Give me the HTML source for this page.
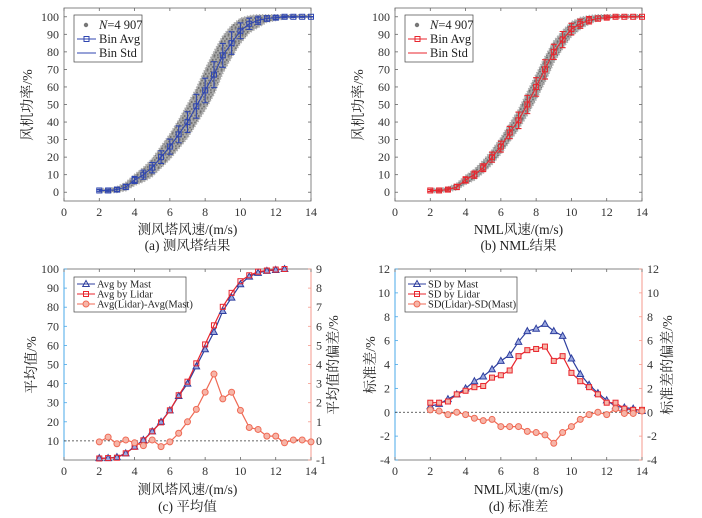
<!DOCTYPE html>
<html><head><meta charset="utf-8">
<style>
html,body{margin:0;padding:0;background:#fff;}
svg{display:block;font-family:"Liberation Serif","Noto Serif CJK SC","Noto Sans CJK SC",serif;}
</style></head>
<body>
<svg id="fig" width="702" height="518" viewBox="0 0 702 518" xmlns="http://www.w3.org/2000/svg">
<defs>
<pattern id="dots" width="7" height="7" patternUnits="userSpaceOnUse">
<rect width="7" height="7" fill="#a9a9a9"/>
<circle cx="1" cy="1.5" r="1" fill="#727272"/><circle cx="4.5" cy="0.8" r="1" fill="#7a7a7a"/>
<circle cx="2.7" cy="4" r="1" fill="#6e6e6e"/><circle cx="6" cy="3.5" r="1" fill="#787878"/>
<circle cx="0.8" cy="6" r="1" fill="#7a7a7a"/><circle cx="4.6" cy="6.2" r="1" fill="#707070"/>
</pattern>
</defs>
</svg>
<script>
// ---- data ----
const binX = [2,2.5,3,3.5,4,4.5,5,5.5,6,6.5,7,7.5,8,8.5,9,9.5,10,10.5,11,11.5,12,12.5,13,13.5,14];
const mastAvgA = [1,1,1.5,3,7,10,14,20,26,33,40,49,58,67,78,85,92,96,98,99,99.5,100,100,100,100];
const mastStdA = [0.5,0.7,1.1,1.5,2.0,2.6,3.0,3.6,4.3,4.8,5.9,6.8,7.0,7.4,6.8,6.4,4.5,3.2,2.3,1.6,1.0,0.5,0.4,0.3,0.1];
const scatterLowA = [0,0,0,1,4,6,9,14,19,25,31,39,47,56,68,77,85,91,94,97,98,99,99.5,99.5,99.5];
const scatterHighA = [2,2,3,5.5,10,14,19,26,33,41,50,59,70,80,89,95,99,100.5,101,101,101,101,101,101,101];
const lidarAvgB = [1,1,1.5,3,7,10,14,20,26,34,41,50,60,70,80,87,93,96,98,99,99.5,100,100,100,100];
const lidarStdB = [0.6,0.7,0.8,1.5,1.8,2.1,2.2,2.9,3.1,3.5,4.7,5.2,5.3,5.5,4.3,4.6,3.3,2.6,2.1,1.5,0.8,0.5,0.3,0.2,0.1];
const scatterLowB = [0,0,0.5,1.5,4.5,7,11,16,22,29,36,44,53,63,74,82,89,93,96,98,99,99.5,99.5,99.5,99.5];
const scatterHighB = [2,2,2.8,5,9.5,13,18,24,31,39,47,57,67,77,86,92,97,99.5,100.5,101,101,101,101,101,101];
const avgXC = [2,2.5,3,3.5,4,4.5,5,5.5,6,6.5,7,7.5,8,8.5,9,9.5,10,10.5,11,11.5,12,12.5];
const mastAvgC = [1,1,1.5,3.5,7,10.5,15,20,26,33.5,40,49,58,67,78,85,92,96,98,99,99.5,100];
const lidarAvgC = [0.8,1,1.2,3.5,6.9,10.3,15,19.7,26,33.9,41,50.6,60.5,70.5,80.2,87.5,93.6,96.7,98.6,99.2,99.7,100];
const avgDiffC = [-0.05,0.2,-0.15,0.05,-0.1,-0.25,0.05,-0.3,-0.05,0.4,1.0,1.65,2.55,3.5,2.2,2.55,1.6,0.7,0.6,0.25,0.25,-0.1,0.05,0.05,-0.05];
const sdMastD = [0.5,0.7,1.1,1.5,2.0,2.6,3.0,3.6,4.3,4.8,5.9,6.8,7.0,7.4,6.8,6.4,4.5,3.2,2.3,1.6,1.0,0.5,0.4,0.3,0.1];
const sdLidarD = [0.8,0.8,0.9,1.5,1.8,2.1,2.2,2.9,3.1,3.5,4.7,5.2,5.3,5.5,4.3,4.7,3.3,2.6,2.1,1.5,0.8,0.8,0.3,0.2,0.2];
const sdDiffD = [0.2,0.1,-0.2,0,-0.2,-0.5,-0.7,-0.6,-1.2,-1.2,-1.2,-1.6,-1.7,-1.9,-2.6,-1.7,-1.2,-0.6,-0.2,0,-0.2,0.3,-0.1,-0.1,0.1];
const xTicks = [0,2,4,6,8,10,12,14];
const yTicksAB = [0,10,20,30,40,50,60,70,80,90,100];
const yTicksC = [10,20,30,40,50,60,70,80,90,100];
const yTicksCR = [-1,0,1,2,3,4,5,6,7,8,9];
const yTicksD = [-4,-2,0,2,4,6,8,10,12];

const svg = document.getElementById('fig');
const NS = 'http://www.w3.org/2000/svg';
function mk(tag, attrs, parent){ const e=document.createElementNS(NS,tag); for(const k in attrs) e.setAttribute(k,attrs[k]); (parent||svg).appendChild(e); return e; }
function txt(s, attrs, parent){ const e=mk('text',attrs,parent); e.textContent=s; return e; }
function scale(d0,d1,r0,r1){ return v => r0+(v-d0)/(d1-d0)*(r1-r0); }

function axesBox(g, L,R,T,B, xs, ys, yt, leftColor, rightColor, ysR, ytR){
  mk('rect',{x:L,y:T,width:R-L,height:B-T,fill:'none',stroke:'#666','stroke-width':0.8},g);
  if(leftColor){ mk('line',{x1:L,y1:T,x2:L,y2:B,stroke:leftColor,'stroke-width':1},g); }
  if(rightColor){ mk('line',{x1:R,y1:T,x2:R,y2:B,stroke:rightColor,'stroke-width':1},g); }
  xTicks.forEach(t=>{ const x=xs(t);
    mk('line',{x1:x,y1:B,x2:x,y2:B-3,stroke:'#666','stroke-width':0.8},g);
    mk('line',{x1:x,y1:T,x2:x,y2:T+3,stroke:'#666','stroke-width':0.8},g);
    const l=txt(String(t),{x:x,y:B+15,'text-anchor':'middle','font-size':12,fill:'#333'},g);
     
  });
  yt.forEach(t=>{ const y=ys(t);
    mk('line',{x1:L,y1:y,x2:L+3,y2:y,stroke:leftColor||'#666','stroke-width':0.8},g);
    if(!ysR) mk('line',{x1:R,y1:y,x2:R-3,y2:y,stroke:'#666','stroke-width':0.8},g);
    const l=txt(String(t),{x:L-5,y:y+4,'text-anchor':'end','font-size':12,fill:'#333'},g);
     
  });
  if(ysR){ ytR.forEach(t=>{ const y=ysR(t);
    mk('line',{x1:R,y1:y,x2:R-3,y2:y,stroke:rightColor,'stroke-width':0.8},g);
    const l=txt(String(t),{x:R+5,y:y+4,'text-anchor':'start','font-size':12,fill:'#333'},g);
     
  }); }
}
function rotLabel(g,s,x,y,name){ const e=txt(s,{x:x,y:y,'text-anchor':'middle','font-size':14,fill:'#222',transform:`rotate(-90 ${x} ${y})`},g);   }
function label(g,s,x,y,name,sz){ const e=txt(s,{x:x,y:y,'text-anchor':'middle','font-size':sz||13.5,fill:'#222'},g);   }
function line(g,xsArr,ysArr,xs,ys,color,w){ const d=xsArr.map((v,i)=>`${i?'L':'M'}${xs(v).toFixed(1)},${ys(ysArr[i]).toFixed(1)}`).join(''); return mk('path',{d:d,fill:'none',stroke:color,'stroke-width':w||1.2},g); }
function marker(g,type,x,y,color,fill){
  if(type==='sq') return mk('rect',{x:x-2.5,y:y-2.5,width:5,height:5,fill:fill||'none',stroke:color,'stroke-width':1},g);
  if(type==='tri') return mk('path',{d:`M${x},${y-3.5}L${x+3.3},${y+2.5}L${x-3.3},${y+2.5}Z`,fill:fill||'none',stroke:color,'stroke-width':1},g);
  return mk('circle',{cx:x,cy:y,r:3,fill:fill||'none',stroke:color,'stroke-width':1},g);
}

function scatterPanel(id, L, low, high, avg, std, color, xlab, cap){
  const g=mk('g',{});  
  const R=L+247, T=8, B=201;
  const xs=scale(0,14,L,R), ys=scale(-5,105,B,T);
  let d='M'+binX.map((v,i)=>`${xs(v).toFixed(1)},${ys(high[i]).toFixed(1)}`).join('L');
  for(let i=binX.length-1;i>=0;i--) d+=`L${xs(binX[i]).toFixed(1)},${ys(low[i]).toFixed(1)}`;
  const c=mk('path',{d:d+'Z',fill:'url(#dots)',stroke:'#b0b0b0','stroke-width':2,'stroke-linejoin':'round','stroke-dasharray':'1.5,1.5'},g);
   
  axesBox(g,L,R,T,B,xs,ys,yTicksAB,null,null);
  const ln=line(g,binX,avg,xs,ys,color,1.1);  
  binX.forEach((v,i)=>{ const x=xs(v), y1=ys(avg[i]+std[i]), y2=ys(avg[i]-std[i]);
    const eb=mk('path',{d:`M${x},${y1}L${x},${y2}M${x-3},${y1}L${x+3},${y1}M${x-3},${y2}L${x+3},${y2}`,stroke:color,'stroke-width':1.1,fill:'none'},g);
     
    const m=marker(g,'sq',x,ys(avg[i]),color);  
  });
  const lg=mk('g',{},g);  
  mk('rect',{x:L+10,y:15,width:68,height:47,fill:'#fff',stroke:'#444','stroke-width':0.7},lg);
  mk('circle',{cx:L+22,cy:25,r:2.2,fill:'#777'},lg);
  const t1=txt('',{x:L+35,y:29,'font-size':12.5,fill:'#222'},lg);
  const ti=document.createElementNS(NS,'tspan'); ti.setAttribute('font-style','italic'); ti.textContent='N'; t1.appendChild(ti);
  t1.appendChild(document.createTextNode('=4 907'));
  mk('line',{x1:L+13,y1:39,x2:L+32,y2:39,stroke:color,'stroke-width':1.1},lg); marker(lg,'sq',L+22.5,39,color);
  txt('Bin Avg',{x:L+35,y:43,'font-size':12.5,fill:'#222'},lg);
  mk('line',{x1:L+13,y1:53,x2:L+32,y2:53,stroke:color,'stroke-width':1.1},lg);
  txt('Bin Std',{x:L+35,y:57,'font-size':12.5,fill:'#222'},lg);
  rotLabel(g,'风机功率/%',L-32,105,'y-axis-title');
  label(g,xlab,(L+R)/2,234,'x-axis-title');
  label(g,cap,(L+R)/2,250,'panel-caption');
}
scatterPanel('panel-a',64,scatterLowA,scatterHighA,mastAvgA,mastStdA,'#2f46b0','测风塔风速/(m/s)','(a) 测风塔结果');
scatterPanel('panel-b',395,scatterLowB,scatterHighB,lidarAvgB,lidarStdB,'#e8262e','NML风速/(m/s)','(b) NML结果');

const BLUE='#2f3f9f', RED='#e8262e', SAL='#ef6a55', LAX='#4aa8e8', RAX='#f59a8c';
function legend3(g,L,labels){
  const lg=mk('g',{},g);  
  const w = labels[2].length>20?119:112;
  mk('rect',{x:L+10,y:277,width:w,height:35,fill:'#fff',stroke:'#444','stroke-width':0.7},lg);
  const cols=[BLUE,RED,SAL], types=['tri','sq','circ'];
  labels.forEach((s,i)=>{ const y=284+i*10;
    mk('line',{x1:L+13,y1:y,x2:L+31,y2:y,stroke:cols[i],'stroke-width':1.1},lg);
    marker(lg,types[i],L+22,y,cols[i],i===2?'#f6b5a8':'none');
    txt(s,{x:L+33,y:y+3.5,'font-size':10.5,fill:'#222'},lg);
  });
}
(function(){
  const g=mk('g',{});  
  const L=64,R=311,T=269,B=460;
  const xs=scale(0,14,L,R), ys=scale(0,100,B,T), ysR=scale(-1,9,B,T);
  axesBox(g,L,R,T,B,xs,ys,yTicksC,LAX,RAX,ysR,yTicksCR);
  mk('line',{x1:L,y1:ysR(0),x2:R,y2:ysR(0),stroke:'#333','stroke-width':0.8,'stroke-dasharray':'2,2'},g);
  const l1=line(g,avgXC,mastAvgC,xs,ys,BLUE);  
  const l2=line(g,avgXC,lidarAvgC,xs,ys,RED);  
  const l3=line(g,binX,avgDiffC,xs,ysR,SAL);  
  avgXC.forEach((v,i)=>{ const m=marker(g,'tri',xs(v),ys(mastAvgC[i]),BLUE,'#9aa8e0');  
    const n=marker(g,'sq',xs(v),ys(lidarAvgC[i]),RED);   });
  binX.forEach((v,i)=>{ const m=marker(g,'circ',xs(v),ysR(avgDiffC[i]),SAL,'#f6b5a8');   });
  legend3(g,L,['Avg by Mast','Avg by Lidar','Avg(Lidar)-Avg(Mast)']);
  rotLabel(g,'平均值/%',L-28,365,'y-axis-title');
  rotLabel(g,'平均值的偏差/%',R+27,365,'y-right-axis-title');
  label(g,'测风塔风速/(m/s)',(L+R)/2,494,'x-axis-title');
  label(g,'(c) 平均值',(L+R)/2,511,'panel-caption');
})();
(function(){
  const g=mk('g',{});  
  const L=395,R=642,T=269,B=460;
  const xs=scale(0,14,L,R), ys=scale(-4,12,B,T);
  axesBox(g,L,R,T,B,xs,ys,yTicksD,LAX,RAX,ys,yTicksD);
  mk('line',{x1:L,y1:ys(0),x2:R,y2:ys(0),stroke:'#333','stroke-width':0.8,'stroke-dasharray':'2,2'},g);
  const l1=line(g,binX,sdMastD,xs,ys,BLUE);  
  const l2=line(g,binX,sdLidarD,xs,ys,RED);  
  const l3=line(g,binX,sdDiffD,xs,ys,SAL);  
  binX.forEach((v,i)=>{ const m=marker(g,'tri',xs(v),ys(sdMastD[i]),BLUE,'#9aa8e0');  
    const n=marker(g,'sq',xs(v),ys(sdLidarD[i]),RED,'#f6b5a8');  
    const o=marker(g,'circ',xs(v),ys(sdDiffD[i]),SAL,'#f6b5a8');   });
  legend3(g,L,['SD by Mast','SD by Lidar','SD(Lidar)-SD(Mast)']);
  rotLabel(g,'标准差/%',L-20,365,'y-axis-title');
  rotLabel(g,'标准差的偏差/%',R+30,365,'y-right-axis-title');
  label(g,'NML风速/(m/s)',(L+R)/2,494,'x-axis-title');
  label(g,'(d) 标准差',(L+R)/2,511,'panel-caption');
})();
</script>
</body></html>
